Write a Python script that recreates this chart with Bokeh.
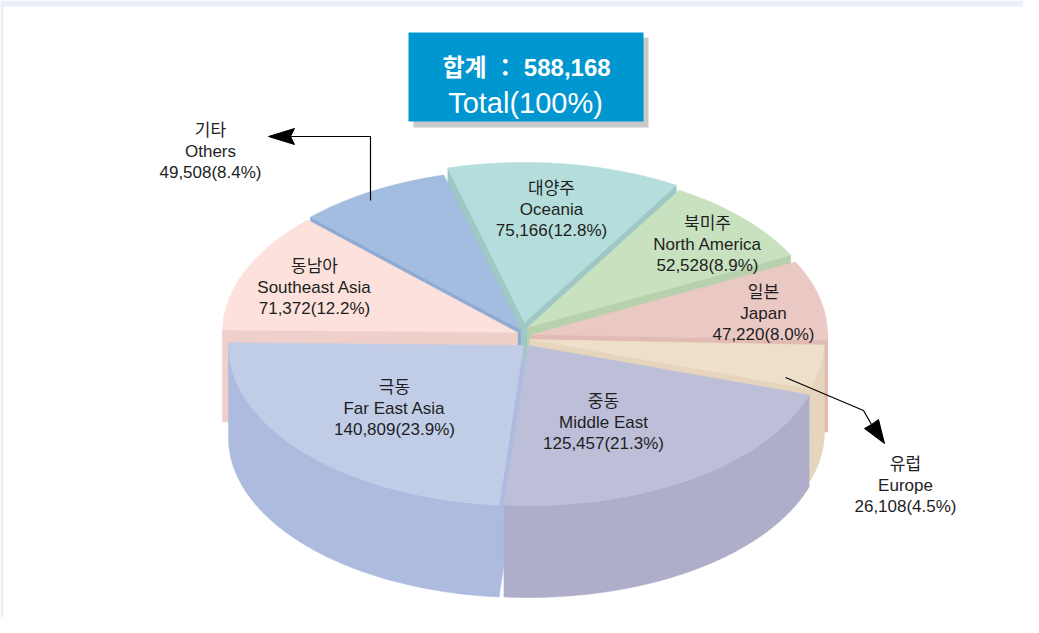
import numpy as np
from bokeh.plotting import figure
from bokeh.models import Range1d
from bokeh.core.properties import value
from bokeh.embed import file_html
from bokeh.resources import INLINE

# ---------------- data ----------------
names_ko = ["일본", "북미주", "대양주", "기타", "동남아", "극동", "중동", "유럽"]
names_en = ["Japan", "North America", "Oceania", "Others", "Southeast Asia",
            "Far East Asia", "Middle East", "Europe"]
values = [47220, 52528, 75166, 49508, 71372, 140809, 125457, 26108]
pct_labels = ["8.0%", "8.9%", "12.8%", "8.4%", "12.2%", "23.9%", "21.3%", "4.5%"]
total_label = "588,168"

# ---------------- style ----------------
top_colors = ["#EAC8C3", "#C8E1BF", "#B4DDDB", "#A3BDE0", "#FCE1DC", "#C1CDE7", "#BDBFD9", "#EEDFC9"]
side_colors = ["#E2BAB4", "#B7D1AD", "#9EC7C5", "#8FAAD3", "#EECFC9", "#ADBBDF", "#AEAECB", "#E6D4BC"]
explode = [(9, -3), (4, -10), (1, -15), (-3, -8), (-6, -5), (0, 8), (5, 8), (6, 2)]
label_pos = [(763, 292), (707, 223), (551, 188), (210, 130), (314, 266),
             (394, 387), (603, 401), (905, 464)]
CX, CY, RX, RY, DEPTH = 523.0, 337.0, 295.0, 160.0, 92.0
START_DEG = -2.0
FONT = value("'Liberation Sans', 'Noto Sans CJK KR', sans-serif")

W, H = 1023, 617
p = figure(width=W, height=H, x_range=Range1d(0, W), y_range=Range1d(H, 0),
           output_backend="svg", toolbar_location=None, min_border=0,
           x_axis_location=None, y_axis_location=None)
p.grid.visible = False
p.outline_line_color = None
p.background_fill_color = "white"
p.border_fill_color = "white"

# light frame strip at top / left
p.quad(left=[0, 0], right=[W, 3], top=[0, 0], bottom=[6, H], fill_color="#E9F0F8", line_color=None)

vals = np.array(values, dtype=float)
fr = vals / vals.sum()
ends = START_DEG + np.cumsum(fr) * 360.0
starts = ends - fr * 360.0


def pt(t, ox, oy, dz=0.0):
    return (CX + ox + RX * np.cos(t), CY + oy - RY * np.sin(t) + dz)


def draw_poly(xs, ys, color):
    p.patch(list(xs), list(ys), fill_color=color, line_color=color, line_width=0.6)


mids = np.radians((starts + ends) / 2)
order = sorted(range(len(vals)), key=lambda i: -np.sin(mids[i]))

for i in order:
    a1, a2 = np.radians(starts[i]), np.radians(ends[i])
    ox, oy = explode[i]
    tipx, tipy = CX + ox, CY + oy
    # radial faces
    for a, vis in ((a1, np.cos(a1) > 0), (a2, np.cos(a2) < 0)):
        if vis:
            ex, ey = pt(a, ox, oy)
            draw_poly([tipx, ex, ex, tipx], [tipy, ey, ey + DEPTH, tipy + DEPTH], side_colors[i])
    # outer wall (front-facing part only)
    ts = np.linspace(a1, a2, 200)
    front = np.sin(ts) < 0
    if front.any():
        idx = np.where(front)[0]
        runs = np.split(idx, np.where(np.diff(idx) > 1)[0] + 1)
        for r in runs:
            tt = ts[r]
            xt, yt = pt(tt, ox, oy)
            xs = np.concatenate([xt, xt[::-1]])
            ys = np.concatenate([yt, (yt + DEPTH)[::-1]])
            draw_poly(xs, ys, side_colors[i])
    # top face
    xt, yt = pt(ts, ox, oy)
    draw_poly(np.concatenate([[tipx], xt]), np.concatenate([[tipy], yt]), top_colors[i])

# ---------------- labels ----------------
for i in range(len(vals)):
    lx, ly = label_pos[i]
    lines = [names_ko[i], names_en[i], f"{values[i]:,}({pct_labels[i]})"]
    p.text(x=[lx] * 3, y=[ly, ly + 21, ly + 42], text=lines, text_font=FONT,
           text_font_size="17px", text_color="#1E1E1E", text_align="center",
           text_baseline="middle")

# ---------------- leader arrows ----------------
p.line([370, 370, 290], [200, 136, 136], line_color="black", line_width=1.2)
p.patch([268, 294, 290, 294], [136, 128, 136, 144], fill_color="black", line_color="black")
p.line([785, 863, 871], [377, 410, 424], line_color="black", line_width=1.2)
p.patch([884, 864, 871, 878], [443, 428, 424, 419], fill_color="black", line_color="black")

# ---------------- title box ----------------
p.quad(left=[413], right=[648], top=[37], bottom=[127], fill_color="#C8C8C8", line_color=None)
p.quad(left=[408], right=[643], top=[32], bottom=[121], fill_color="#0096CF", line_color=None)
p.text(x=[526], y=[67], text=["합계 ： " + total_label], text_font=FONT, text_font_size="24px",
       text_font_style="bold", text_color="white", text_align="center", text_baseline="alphabetic")
p.text(x=[525], y=[102], text=["Total(100%)"], text_font=FONT, text_font_size="29px",
       text_color="white", text_align="center", text_baseline="alphabetic")

open("out.html", "w").write(file_html(p, INLINE))
